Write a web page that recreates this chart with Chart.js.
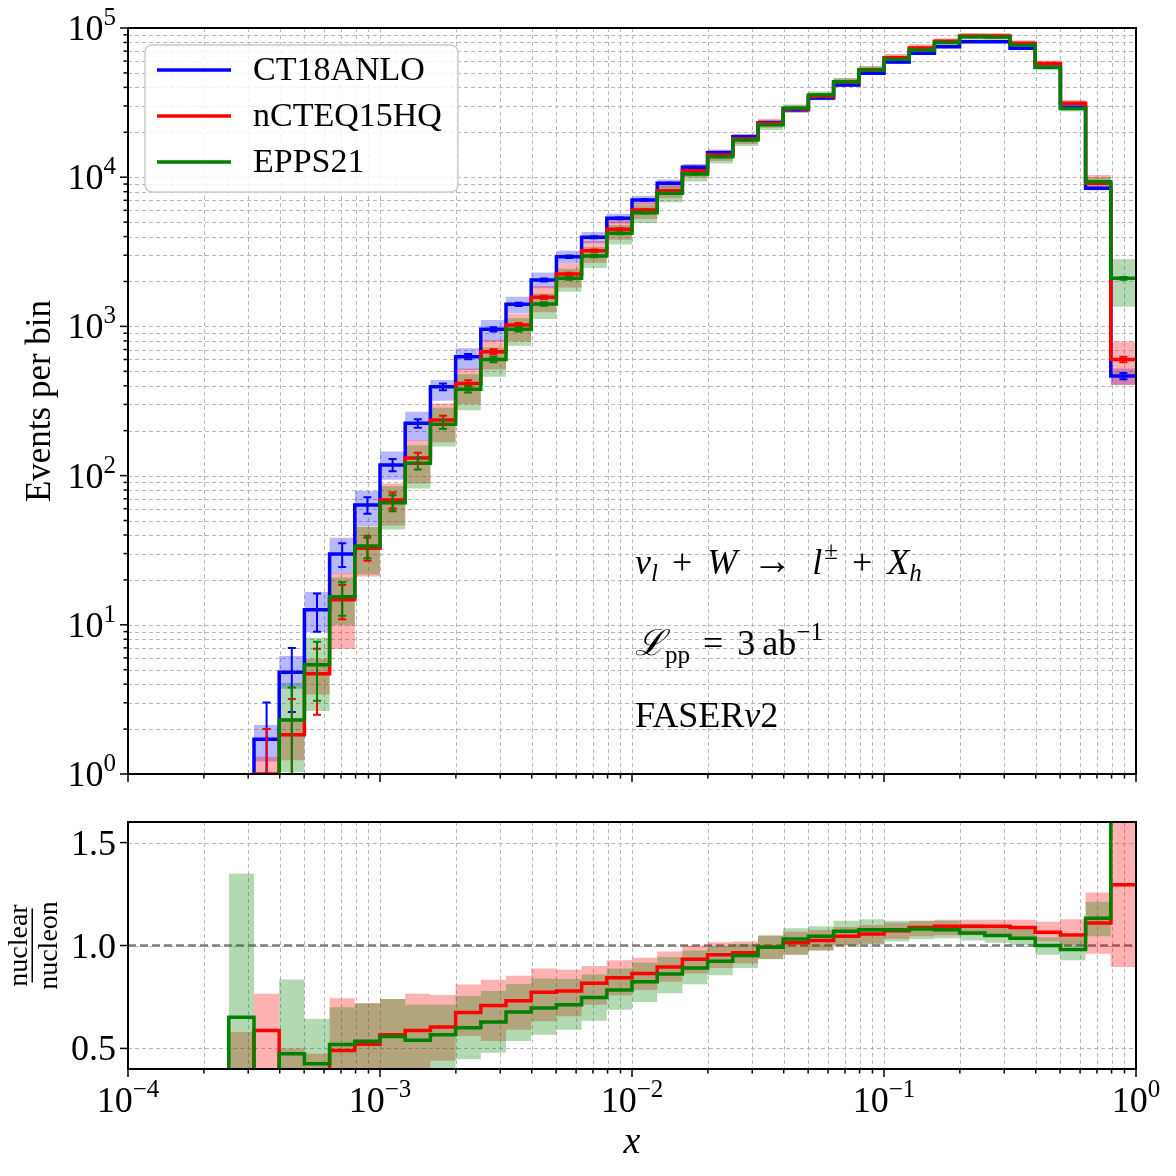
<!DOCTYPE html>
<html>
<head>
<meta charset="utf-8">
<script src="https://cdn.jsdelivr.net/npm/chart.js@4.4.1/dist/chart.umd.min.js"></script>
<style>
  html, body { margin: 0; padding: 0; background: #fff; }
  #wrap { position: relative; width: 1176px; height: 1176px; background: #fff; }
  canvas { position: absolute; left: 0; }
  #cTop { top: 0; }
  #cRatio { top: 800px; }
</style>
</head>
<body>
<div id="wrap">
  <canvas id="cTop" width="1176" height="800" style="width:1176px;height:800px"></canvas>
  <canvas id="cRatio" width="1176" height="376" style="width:1176px;height:376px"></canvas>
</div>
<script>
/* x-distribution of nu_l + W -> l + X_h events, FASERnu2, three PDF sets
 * top: events per bin (log-log), bottom: nuclear / nucleon ratio          */

// ── Data ─────────────────────────────────────────────────────────────────────
// bin edges, log10(x): 10 bins per decade
var edgeExp = [-4.0, -3.9, -3.8, -3.7, -3.6, -3.5, -3.4, -3.3, -3.2, -3.1,
               -3.0, -2.9, -2.8, -2.7, -2.6, -2.5, -2.4, -2.3, -2.2, -2.1,
               -2.0, -1.9, -1.8, -1.7, -1.6, -1.5, -1.4, -1.3, -1.2, -1.1,
               -1.0, -0.9, -0.8, -0.7, -0.6, -0.5, -0.4, -0.3, -0.2, -0.1, 0.0];

var seriesNames = ['CT18ANLO', 'nCTEQ15HQ', 'EPPS21'];

// events per bin
var ct18 = [null, null, null, null, 0.6, 1.71, 4.8, 12.6, 29.8, 63.5,
            118, 224, 394, 627, 956, 1406, 2046, 2933, 3955, 5300,
            7035, 9100, 11650, 14600, 18680, 23200, 28300, 34000, 41500, 49700,
            59100, 67600, 75000, 81000, 81000, 73100, 54500, 29400, 8420, 465];
var nctq = [null, null, null, null, 0.15, 1.0, 1.83, 4.7, 14.7, 32.6,
            68.6, 131, 236, 415, 677, 1021, 1567, 2245, 3215, 4475,
            6026, 8120, 11060, 14080, 18100, 23000, 28700, 34800, 43300, 52400,
            63300, 73500, 81600, 88300, 88400, 78900, 57900, 31300, 9100, 601];
var epps = [null, null, null, null, 0.39, 0.5, 2.3, 5.4, 15.4, 33.7,
            65.8, 121, 221, 379, 601, 956, 1413, 2100, 2964, 4206,
            5785, 7800, 10500, 13720, 17740, 22500, 29000, 35500, 43700, 52300,
            61700, 71300, 80000, 87500, 87000, 76900, 54500, 28900, 9330, 2100];

// PDF band, upper / lower width in decades
var ct18Up = [null, null, null, null, 0.12, 0.095, 0.11, 0.12, 0.11, 0.094,
              0.089, 0.078, 0.045, 0.056, 0.063, 0.051, 0.05, 0.04, 0.035, 0.03,
              0.028, 0.025, 0.022, 0.02, 0.018, 0.016, 0.015, 0.014, 0.013, 0.012,
              0.012, 0.011, 0.01, 0.01, 0.01, 0.01, 0.01, 0.01, 0.012, 0.05];
var ct18Dn = [null, null, null, null, 0.12, 0.15, 0.11, 0.15, 0.13, 0.14,
              0.10, 0.116, 0.094, 0.089, 0.082, 0.06, 0.056, 0.045, 0.04, 0.035,
              0.03, 0.028, 0.024, 0.021, 0.019, 0.017, 0.015, 0.014, 0.013, 0.012,
              0.012, 0.011, 0.01, 0.01, 0.01, 0.01, 0.01, 0.01, 0.012, 0.06];
var nctqUp = [null, null, null, null, 0.15, 0.116, 0.11, 0.10, 0.18, 0.145,
              0.11, 0.12, 0.11, 0.10, 0.08, 0.075, 0.075, 0.07, 0.065, 0.06,
              0.05, 0.045, 0.04, 0.035, 0.03, 0.03, 0.025, 0.025, 0.025, 0.025,
              0.025, 0.025, 0.02, 0.02, 0.02, 0.02, 0.02, 0.022, 0.056, 0.12];
var nctqDn = [null, null, null, null, 0.3, 0.3, 0.17, 0.14, 0.33, 0.19,
              0.17, 0.17, 0.15, 0.14, 0.12, 0.11, 0.10, 0.09, 0.08, 0.07,
              0.06, 0.05, 0.045, 0.04, 0.035, 0.03, 0.025, 0.025, 0.025, 0.025,
              0.025, 0.025, 0.02, 0.02, 0.02, 0.02, 0.02, 0.02, 0.04, 0.17];
var eppsUp = [null, null, null, null, 0.3, 0.2, 0.25, 0.18, 0.13, 0.13,
              0.11, 0.12, 0.11, 0.10, 0.08, 0.075, 0.07, 0.065, 0.06, 0.055,
              0.05, 0.045, 0.04, 0.035, 0.03, 0.03, 0.025, 0.025, 0.025, 0.025,
              0.025, 0.025, 0.02, 0.02, 0.02, 0.02, 0.02, 0.02, 0.03, 0.128];
var eppsDn = [null, null, null, null, 0.3, 0.3, 0.35, 0.31, 0.19, 0.19,
              0.18, 0.17, 0.15, 0.14, 0.116, 0.11, 0.10, 0.09, 0.08, 0.075,
              0.07, 0.06, 0.05, 0.045, 0.04, 0.035, 0.03, 0.028, 0.025, 0.025,
              0.025, 0.025, 0.02, 0.02, 0.02, 0.02, 0.02, 0.02, 0.03, 0.19];

// statistical error bars (half width, events)
var ct18Err = [null, null, null, null, null, 1.3, 2.2, 3.6, 5.4, 8,
               11, 15, 20, 25, 31, 37, 45, 54, 63, 73,
               84, 95, 108, 121, 137, 152, 168, 184, 204, 223,
               243, 260, 274, 285, 287, 270, 233, 171, 92, 22];
var nctqErr = [null, null, null, null, null, 1.0, 1.35, 2.2, 3.8, 5.7,
               8.3, 11.4, 15.4, 20, 26, 32, 40, 47, 57, 67,
               78, 90, 105, 119, 135, 152, 169, 187, 208, 229,
               252, 271, 286, 297, 297, 281, 241, 177, 95, 25];
var eppsErr = [null, null, null, null, null, null, 1.5, 2.3, 3.9, 5.8,
               8.1, 11, 15, 19, 25, 31, 38, 46, 54, 65,
               76, 88, 102, 117, 133, 150, 170, 188, 209, 229,
               248, 267, 283, 296, 295, 277, 233, 171, 97, 46];

// ratio nuclear / nucleon (central, band low, band high)
var ratioNctq = [null, null, null, null, 0.25, 0.587, 0.38, 0.37, 0.49, 0.52,
                 0.567, 0.587, 0.604, 0.675, 0.709, 0.732, 0.773, 0.779, 0.816, 0.843,
                 0.864, 0.896, 0.933, 0.955, 0.965, 0.992, 1.013, 1.024, 1.045, 1.056,
                 1.072, 1.087, 1.093, 1.093, 1.093, 1.088, 1.064, 1.051, 1.109, 1.295];
var ratioNctqLo = [null, null, null, null, 0.2, 0.2, 0.2, 0.2, 0.35, 0.35,
                   0.35, 0.35, 0.44, 0.56, 0.536, 0.591, 0.632, 0.656, 0.712, 0.757,
                   0.784, 0.824, 0.864, 0.891, 0.912, 0.935, 0.955, 0.976, 1.0, 1.008,
                   1.032, 1.045, 1.05, 1.05, 1.045, 1.04, 1.02, 1.0, 0.96, 0.896];
var ratioNctqHi = [null, null, null, null, 0.58, 0.766, 0.50, 0.474, 0.744, 0.72,
                   0.74, 0.766, 0.76, 0.81, 0.833, 0.853, 0.888, 0.882, 0.901, 0.928,
                   0.941, 0.971, 1.0, 1.016, 1.02, 1.048, 1.067, 1.075, 1.09, 1.10,
                   1.11, 1.12, 1.125, 1.125, 1.125, 1.125, 1.115, 1.128, 1.257, 1.7];
var ratioEpps = [null, null, null, 0, 0.651, 0.3, 0.474, 0.426, 0.519, 0.535,
                 0.558, 0.54, 0.567, 0.60, 0.628, 0.677, 0.696, 0.712, 0.747, 0.784,
                 0.824, 0.861, 0.891, 0.923, 0.952, 0.992, 1.032, 1.045, 1.069, 1.077,
                 1.077, 1.08, 1.077, 1.061, 1.048, 1.035, 1.0, 0.981, 1.132, 4.5];
var ratioEppsLo = [null, null, null, null, 0.2, 0.2, 0.2, 0.2, 0.3, 0.3,
                   0.3, 0.3, 0.3, 0.447, 0.479, 0.536, 0.567, 0.591, 0.635, 0.688,
                   0.725, 0.768, 0.812, 0.856, 0.891, 0.933, 0.955, 0.976, 1.0, 1.005,
                   1.02, 1.03, 1.035, 1.024, 1.013, 1.003, 0.955, 0.928, 1.045, 3.5];
var ratioEppsHi = [null, null, null, null, 1.348, 0.35, 0.835, 0.643, 0.70, 0.72,
                   0.74, 0.712, 0.712, 0.755, 0.779, 0.813, 0.84, 0.837, 0.859, 0.888,
                   0.917, 0.944, 0.976, 0.999, 1.008, 1.048, 1.084, 1.093, 1.12, 1.128,
                   1.12, 1.12, 1.12, 1.105, 1.095, 1.08, 1.04, 1.04, 1.212, 5.5];

// axes
var xMajor = [1e-4, 1e-3, 1e-2, 1e-1, 1];
var xMajorExp = ['\u22124', '\u22123', '\u22122', '\u22121', '0'];
var yMajor = [1, 10, 100, 1e3, 1e4, 1e5];
var yMajorExp = ['0', '1', '2', '3', '4', '5'];
var ratioTicks = [0.5, 1.0, 1.5];
var ratioTickLabels = ['0.5', '1.0', '1.5'];

// ── Helpers ──────────────────────────────────────────────────────────────────
var binEdges = edgeExp.map(function (e) { return Math.pow(10, e); });
var SERIF = '"Liberation Serif", "DejaVu Serif", serif';
var BLUE = '#0000ff', RED = '#ff0000', GREEN = '#008000';

function minorTicks(majors) {
  var out = [];
  for (var i = 0; i < majors.length - 1; i++) {
    for (var m = 2; m <= 9; m++) out.push(majors[i] * m);
  }
  return out;
}
var xMinor = minorTicks(xMajor);
var yMinor = minorTicks(yMajor);

function fnt(size, italic) { return (italic ? 'italic ' : '') + size + 'px ' + SERIF; }

function steps(vals) {
  var pts = vals.map(function (v, i) { return { x: binEdges[i], y: v }; });
  pts.push({ x: binEdges[vals.length], y: vals[vals.length - 1] });
  return pts;
}
function shift(vals, dex, sign) {
  return vals.map(function (v, i) {
    return (v == null || dex[i] == null) ? null : v * Math.pow(10, sign * dex[i]);
  });
}

// draw mixed text (sub/superscripts, italics) pieces side by side
function rich(ctx, parts, x, y, align) {
  var w = 0;
  parts.forEach(function (p) {
    ctx.font = fnt(p.s, p.i);
    p.w = ctx.measureText(p.t).width + (p.g || 0);
    w += p.w;
  });
  var cx = align === 'right' ? x - w : (align === 'center' ? x - w / 2 : x);
  parts.forEach(function (p) {
    ctx.font = fnt(p.s, p.i);
    ctx.fillText(p.t, cx, y + (p.dy || 0));
    cx += p.w;
  });
}
function pow10(exp) {
  return [{ t: '10', s: 36 }, { t: exp, s: 25, dy: -15 }];
}

function drawGrid(chart, xs, ys) {
  var ctx = chart.ctx, a = chart.chartArea, sx = chart.scales.x, sy = chart.scales.y;
  ctx.save();
  ctx.strokeStyle = '#b8b8b8';
  ctx.lineWidth = 1;
  ctx.setLineDash([4, 3]);
  xs.forEach(function (v) {
    var p = Math.round(sx.getPixelForValue(v)) + 0.5;
    ctx.beginPath(); ctx.moveTo(p, a.top); ctx.lineTo(p, a.bottom); ctx.stroke();
  });
  ys.forEach(function (v) {
    var p = Math.round(sy.getPixelForValue(v)) + 0.5;
    ctx.beginPath(); ctx.moveTo(a.left, p); ctx.lineTo(a.right, p); ctx.stroke();
  });
  ctx.restore();
}

function drawFrame(chart, xMaj, xMin, yMaj, yMin) {
  var ctx = chart.ctx, a = chart.chartArea, sx = chart.scales.x, sy = chart.scales.y;
  ctx.save();
  ctx.strokeStyle = '#000';
  ctx.lineWidth = 1.5;
  function tx(v, len) {
    var p = sx.getPixelForValue(v);
    ctx.beginPath(); ctx.moveTo(p, a.bottom); ctx.lineTo(p, a.bottom + len); ctx.stroke();
  }
  function ty(v, len) {
    var p = sy.getPixelForValue(v);
    ctx.beginPath(); ctx.moveTo(a.left, p); ctx.lineTo(a.left - len, p); ctx.stroke();
  }
  xMaj.forEach(function (v) { tx(v, 8); });
  xMin.forEach(function (v) { tx(v, 4.5); });
  yMaj.forEach(function (v) { ty(v, 8); });
  yMin.forEach(function (v) { ty(v, 4.5); });
  ctx.lineWidth = 2;
  ctx.strokeRect(a.left, a.top, a.right - a.left, a.bottom - a.top);
  ctx.restore();
}

// ── Top panel ────────────────────────────────────────────────────────────────
var topSeries = [
  { vals: ct18, err: ct18Err, up: ct18Up, dn: ct18Dn, color: BLUE, band: 'rgba(0,0,255,0.28)' },
  { vals: nctq, err: nctqErr, up: nctqUp, dn: nctqDn, color: RED, band: 'rgba(255,0,0,0.3)' },
  { vals: epps, err: eppsErr, up: eppsUp, dn: eppsDn, color: GREEN, band: 'rgba(0,128,0,0.3)' }
];

var topDatasets = [];
topSeries.forEach(function (s, k) {
  var bandOrder = 30 - 10 * k;
  topDatasets.push({ data: steps(shift(s.vals, s.dn, -1)), stepped: true, borderWidth: 0,
    borderColor: 'transparent', pointRadius: 0, fill: false, order: bandOrder });
  topDatasets.push({ data: steps(shift(s.vals, s.up, 1)), stepped: true, borderWidth: 0,
    borderColor: 'transparent', pointRadius: 0, fill: '-1', backgroundColor: s.band, order: bandOrder });
});
topSeries.forEach(function (s, k) {
  topDatasets.push({ label: seriesNames[k], data: steps(s.vals), stepped: true, borderWidth: 3.5,
    borderColor: s.color, pointRadius: 0, fill: false, order: 3 - k, clip: 0 });
});

var topPlugin = {
  id: 'topDeco',
  beforeDatasetsDraw: function (chart) {
    drawGrid(chart, xMajor.concat(xMinor), yMajor.concat(yMinor));
  },
  afterDatasetsDraw: function (chart) {
    var ctx = chart.ctx, a = chart.chartArea, sx = chart.scales.x, sy = chart.scales.y;

    // error bars
    ctx.save();
    ctx.beginPath(); ctx.rect(a.left, a.top, a.right - a.left, a.bottom - a.top); ctx.clip();
    ctx.lineWidth = 2;
    topSeries.forEach(function (s) {
      ctx.strokeStyle = s.color;
      s.vals.forEach(function (v, i) {
        var e = s.err[i];
        if (v == null || e == null) return;
        var xc = sx.getPixelForValue(Math.sqrt(binEdges[i] * binEdges[i + 1]));
        var yHi = sy.getPixelForValue(v + e);
        var lo = v - e;
        var yLo = lo > 0 ? sy.getPixelForValue(lo) : a.bottom + 10;
        ctx.beginPath();
        ctx.moveTo(xc, yHi); ctx.lineTo(xc, yLo);
        ctx.moveTo(xc - 4, yHi); ctx.lineTo(xc + 4, yHi);
        if (lo > 0) { ctx.moveTo(xc - 4, yLo); ctx.lineTo(xc + 4, yLo); }
        ctx.stroke();
      });
    });
    ctx.restore();

    drawFrame(chart, xMajor, xMinor, yMajor, yMinor);

    // y tick labels
    ctx.save();
    ctx.fillStyle = '#000';
    ctx.textBaseline = 'alphabetic';
    yMajor.forEach(function (v, i) {
      rich(ctx, pow10(yMajorExp[i]), 116, sy.getPixelForValue(v) + 12, 'right');
    });

    // y title
    ctx.save();
    ctx.translate(41, (a.top + a.bottom) / 2);
    ctx.rotate(-Math.PI / 2);
    ctx.font = fnt(35);
    ctx.textAlign = 'center';
    ctx.textBaseline = 'middle';
    ctx.fillText('Events per bin', 0, 0);
    ctx.restore();

    // annotations
    rich(ctx, [
      { t: '\u03bd', s: 36, i: 1 }, { t: 'l', s: 25, i: 1, dy: 7, g: 5 },
      { t: ' + ', s: 36, g: 6 }, { t: 'W', s: 36, i: 1, g: 5 },
      { t: ' \u2192 ', s: 40, g: 10 }, { t: 'l', s: 36, i: 1, g: 2 },
      { t: '\u00b1', s: 25, dy: -15, g: 5 }, { t: ' + ', s: 36, g: 6 },
      { t: 'X', s: 36, i: 1 }, { t: 'h', s: 25, i: 1, dy: 7 }
    ], 635, 574, 'left');
    rich(ctx, [
      { t: '\u2112', s: 36, i: 1 }, { t: 'pp', s: 25, dy: 8, g: 4 },
      { t: ' = ', s: 36, g: 5 }, { t: '3', s: 36, g: 7 },
      { t: 'ab', s: 36 }, { t: '\u22121', s: 25, dy: -15 }
    ], 635, 655, 'left');
    rich(ctx, [
      { t: 'FASER', s: 36 }, { t: '\u03bd', s: 36, i: 1 }, { t: '2', s: 36 }
    ], 635, 727, 'left');
    ctx.restore();

    // legend
    ctx.save();
    var lx = 145, ly = 45, lw = 313, lh = 147, r = 7;
    ctx.beginPath();
    ctx.moveTo(lx + r, ly);
    ctx.arcTo(lx + lw, ly, lx + lw, ly + lh, r);
    ctx.arcTo(lx + lw, ly + lh, lx, ly + lh, r);
    ctx.arcTo(lx, ly + lh, lx, ly, r);
    ctx.arcTo(lx, ly, lx + lw, ly, r);
    ctx.closePath();
    ctx.fillStyle = 'rgba(255,255,255,0.8)';
    ctx.fill();
    ctx.strokeStyle = '#cccccc';
    ctx.lineWidth = 1.5;
    ctx.stroke();
    ctx.font = fnt(34);
    ctx.textBaseline = 'middle';
    ctx.fillStyle = '#000';
    topSeries.forEach(function (s, k) {
      var yy = 70 + 46 * k;
      ctx.strokeStyle = s.color;
      ctx.lineWidth = 3.5;
      ctx.beginPath(); ctx.moveTo(157, yy); ctx.lineTo(231, yy); ctx.stroke();
      ctx.fillText(seriesNames[k], 253, yy + 1);
    });
    ctx.restore();
  }
};

new Chart(document.getElementById('cTop'), {
  type: 'line',
  data: { datasets: topDatasets },
  options: {
    responsive: false,
    animation: false,
    events: [],
    layout: { padding: { left: 128, top: 28, right: 40, bottom: 26 } },
    plugins: { legend: { display: false }, tooltip: { enabled: false } },
    scales: {
      x: { type: 'logarithmic', min: 1e-4, max: 1, display: false },
      y: { type: 'logarithmic', min: 1, max: 1e5, display: false }
    }
  },
  plugins: [topPlugin]
});

// ── Ratio panel ──────────────────────────────────────────────────────────────
var ratioDatasets = [
  { data: steps(ratioNctqLo), stepped: true, borderWidth: 0, borderColor: 'transparent',
    pointRadius: 0, fill: false, order: 20 },
  { data: steps(ratioNctqHi), stepped: true, borderWidth: 0, borderColor: 'transparent',
    pointRadius: 0, fill: '-1', backgroundColor: 'rgba(255,0,0,0.3)', order: 20 },
  { data: steps(ratioEppsLo), stepped: true, borderWidth: 0, borderColor: 'transparent',
    pointRadius: 0, fill: false, order: 10 },
  { data: steps(ratioEppsHi), stepped: true, borderWidth: 0, borderColor: 'transparent',
    pointRadius: 0, fill: '-1', backgroundColor: 'rgba(0,128,0,0.3)', order: 10 },
  { data: steps(ratioNctq), stepped: true, borderWidth: 3.5, borderColor: RED,
    pointRadius: 0, fill: false, order: 2, clip: 0 },
  { data: steps(ratioEpps), stepped: true, borderWidth: 3.5, borderColor: GREEN,
    pointRadius: 0, fill: false, order: 1, clip: 0 }
];

var ratioPlugin = {
  id: 'ratioDeco',
  beforeDatasetsDraw: function (chart) {
    var ctx = chart.ctx, a = chart.chartArea, sy = chart.scales.y;
    drawGrid(chart, xMajor.concat(xMinor), ratioTicks);
    ctx.save();
    ctx.strokeStyle = '#7f7f7f';
    ctx.lineWidth = 2.5;
    ctx.setLineDash([8, 4]);
    var p = sy.getPixelForValue(1.0);
    ctx.beginPath(); ctx.moveTo(a.left, p); ctx.lineTo(a.right, p); ctx.stroke();
    ctx.restore();
  },
  afterDatasetsDraw: function (chart) {
    var ctx = chart.ctx, a = chart.chartArea, sx = chart.scales.x, sy = chart.scales.y;
    drawFrame(chart, xMajor, xMinor, ratioTicks, []);
    ctx.save();
    ctx.fillStyle = '#000';
    ctx.textBaseline = 'alphabetic';
    ratioTicks.forEach(function (v, i) {
      rich(ctx, [{ t: ratioTickLabels[i], s: 36 }], 116, sy.getPixelForValue(v) + 12, 'right');
    });
    xMajor.forEach(function (v, i) {
      rich(ctx, pow10(xMajorExp[i]), sx.getPixelForValue(v), a.bottom + 43, 'center');
    });
    // x title
    ctx.font = fnt(38, true);
    ctx.textAlign = 'center';
    ctx.fillText('x', (a.left + a.right) / 2, a.bottom + 84);

    // y title as a fraction
    ctx.translate(33, (a.top + a.bottom) / 2);
    ctx.rotate(-Math.PI / 2);
    ctx.font = fnt(28);
    ctx.textAlign = 'center';
    ctx.fillText('nuclear', 0, -6);
    ctx.textBaseline = 'top';
    ctx.fillText('nucleon', 0, 3);
    ctx.fillRect(-37, -1.5, 74, 1.5);
    ctx.restore();
  }
};

new Chart(document.getElementById('cRatio'), {
  type: 'line',
  data: { datasets: ratioDatasets },
  options: {
    responsive: false,
    animation: false,
    events: [],
    layout: { padding: { left: 128, top: 22, right: 40, bottom: 107 } },
    plugins: { legend: { display: false }, tooltip: { enabled: false } },
    scales: {
      x: { type: 'logarithmic', min: 1e-4, max: 1, display: false },
      y: { type: 'linear', min: 0.4, max: 1.6, display: false }
    }
  },
  plugins: [ratioPlugin]
});
</script>
</body>
</html>
